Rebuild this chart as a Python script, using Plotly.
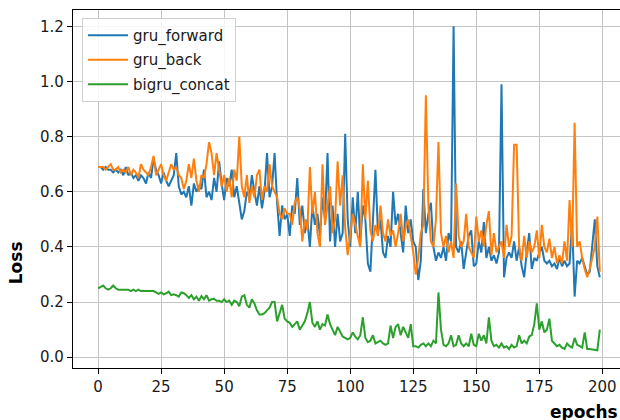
import plotly.graph_objects as go

epochs = list(range(200))

gru_forward = [
    0.69, 0.69, 0.68, 0.69, 0.68, 0.68, 0.67, 0.68, 0.67, 0.68,
    0.66, 0.69, 0.66, 0.67, 0.65, 0.66, 0.64, 0.66, 0.65, 0.63,
    0.67, 0.65, 0.72, 0.68, 0.66, 0.63, 0.67, 0.64, 0.62, 0.64,
    0.66, 0.74, 0.62, 0.59, 0.60, 0.58, 0.62, 0.55, 0.63, 0.60,
    0.62, 0.61, 0.68, 0.58, 0.60, 0.57, 0.65, 0.60, 0.71, 0.63,
    0.57, 0.65, 0.62, 0.68, 0.58, 0.62, 0.55, 0.50, 0.53, 0.60,
    0.58, 0.66, 0.60, 0.55, 0.62, 0.54, 0.60, 0.74, 0.58, 0.62,
    0.74, 0.56, 0.44, 0.55, 0.50, 0.52, 0.44, 0.55, 0.52, 0.65,
    0.48, 0.55, 0.45, 0.50, 0.40, 0.55, 0.48, 0.52, 0.44, 0.58,
    0.50, 0.74, 0.42, 0.55, 0.40, 0.52, 0.42, 0.45, 0.81, 0.50,
    0.40, 0.58, 0.45, 0.60, 0.42, 0.55, 0.50, 0.34, 0.31, 0.48,
    0.68, 0.45, 0.50, 0.38, 0.36, 0.44, 0.40, 0.60, 0.48, 0.52,
    0.44, 0.38, 0.55, 0.45, 0.50, 0.42, 0.40, 0.28, 0.35, 0.61,
    0.45, 0.52, 0.56, 0.40, 0.35, 0.38, 0.36, 0.40, 0.35, 0.45,
    0.42, 1.20, 0.40, 0.38, 0.42, 0.32, 0.38, 0.44, 0.46, 0.33,
    0.34, 0.42, 0.38, 0.49, 0.36, 0.40, 0.35, 0.37, 0.34, 0.38,
    0.99, 0.29, 0.36, 0.38, 0.36, 0.42, 0.35, 0.40, 0.33, 0.29,
    0.38, 0.45, 0.32, 0.36, 0.35, 0.38, 0.40, 0.35, 0.34, 0.35,
    0.33, 0.34, 0.32, 0.36, 0.33, 0.35, 0.33, 0.34, 0.49, 0.22,
    0.35, 0.34, 0.36, 0.33, 0.30, 0.31, 0.40, 0.50, 0.33, 0.29,
]

gru_back = [
    0.69, 0.69, 0.69, 0.68, 0.69, 0.70, 0.68, 0.68, 0.69, 0.67,
    0.68, 0.67, 0.69, 0.66, 0.68, 0.67, 0.65, 0.70, 0.68, 0.67,
    0.66, 0.69, 0.73, 0.66, 0.68, 0.70, 0.66, 0.64, 0.67, 0.70,
    0.68, 0.69, 0.66, 0.65, 0.61, 0.64, 0.70, 0.65, 0.72, 0.64,
    0.60, 0.66, 0.65, 0.70, 0.78, 0.74, 0.66, 0.74, 0.68, 0.62,
    0.66, 0.60, 0.65, 0.58, 0.68, 0.64, 0.80, 0.62, 0.58, 0.66,
    0.56, 0.62, 0.58, 0.66, 0.68, 0.57, 0.62, 0.60, 0.70, 0.62,
    0.60, 0.58, 0.52, 0.50, 0.54, 0.52, 0.52, 0.48, 0.56, 0.58,
    0.54, 0.42, 0.50, 0.46, 0.69, 0.52, 0.60, 0.45, 0.40, 0.70,
    0.48, 0.55, 0.62, 0.45, 0.50, 0.71, 0.55, 0.66, 0.47, 0.37,
    0.45, 0.52, 0.48, 0.44, 0.40, 0.70, 0.50, 0.64, 0.46, 0.42,
    0.48, 0.44, 0.55, 0.45, 0.42, 0.50, 0.44, 0.46, 0.40, 0.45,
    0.52, 0.42, 0.47, 0.50, 0.44, 0.38, 0.30, 0.36, 0.45, 0.48,
    0.95, 0.55, 0.42, 0.40, 0.50, 0.78, 0.45, 0.40, 0.44, 0.38,
    0.42, 0.36, 0.63, 0.44, 0.40, 0.42, 0.52, 0.40, 0.38, 0.36,
    0.51, 0.42, 0.46, 0.40, 0.48, 0.53, 0.37, 0.45, 0.38, 0.40,
    0.42, 0.36, 0.48, 0.40, 0.44, 0.77, 0.77, 0.40, 0.35, 0.44,
    0.36, 0.42, 0.38, 0.40, 0.46, 0.36, 0.48, 0.40, 0.38, 0.43,
    0.36, 0.40, 0.34, 0.37, 0.34, 0.42, 0.35, 0.57, 0.40, 0.85,
    0.40, 0.42, 0.36, 0.32, 0.29, 0.32, 0.36, 0.40, 0.51, 0.31,
]

bigru_concat = [
    0.25, 0.255, 0.26, 0.25, 0.245, 0.25, 0.26, 0.25, 0.245, 0.245,
    0.245, 0.245, 0.245, 0.24, 0.245, 0.24, 0.245, 0.24, 0.24, 0.24,
    0.24, 0.238, 0.24, 0.235, 0.23, 0.235, 0.228, 0.232, 0.238, 0.225,
    0.228, 0.225, 0.22, 0.235, 0.232, 0.225, 0.215, 0.225, 0.21, 0.22,
    0.205, 0.222, 0.21, 0.225, 0.205, 0.21, 0.212, 0.205, 0.205, 0.2,
    0.21, 0.2, 0.205, 0.19, 0.205, 0.2, 0.185, 0.22, 0.225, 0.19,
    0.18, 0.21, 0.195, 0.17, 0.155, 0.155, 0.16, 0.17, 0.18, 0.2,
    0.2, 0.13, 0.16, 0.19, 0.14, 0.13, 0.125, 0.11, 0.12, 0.13,
    0.1, 0.115, 0.13, 0.16, 0.2, 0.125, 0.11, 0.13, 0.1, 0.12,
    0.115, 0.155, 0.12, 0.1, 0.08, 0.11, 0.09, 0.075, 0.07, 0.065,
    0.07, 0.09, 0.075, 0.065, 0.08, 0.145, 0.07, 0.055, 0.06, 0.08,
    0.05, 0.055, 0.06, 0.05, 0.045, 0.05, 0.115, 0.07, 0.11, 0.12,
    0.08, 0.11, 0.09, 0.07, 0.12, 0.04, 0.04, 0.035, 0.045, 0.05,
    0.04, 0.05, 0.04, 0.06, 0.05, 0.235, 0.1, 0.045, 0.04, 0.05,
    0.08, 0.04, 0.045, 0.08, 0.05, 0.04, 0.05, 0.04, 0.085, 0.045,
    0.04, 0.085, 0.06, 0.08, 0.05, 0.145, 0.06, 0.04, 0.045, 0.035,
    0.05, 0.035, 0.04, 0.03, 0.045, 0.035, 0.04, 0.08, 0.05, 0.06,
    0.05, 0.075, 0.08, 0.12, 0.195, 0.1, 0.13, 0.09, 0.1, 0.14,
    0.06, 0.05, 0.04, 0.045, 0.035, 0.03, 0.05, 0.04, 0.035, 0.07,
    0.045, 0.04, 0.035, 0.09, 0.03, 0.03, 0.028, 0.025, 0.025, 0.1,
]

x_ticks = [0, 25, 50, 75, 100, 125, 150, 175, 200]
y_ticks = [0.0, 0.2, 0.4, 0.6, 0.8, 1.0, 1.2]

series = [
    ("gru_forward", gru_forward, "#1f77b4"),
    ("gru_back", gru_back, "#ff7f0e"),
    ("bigru_concat", bigru_concat, "#2ca02c"),
]

fig = go.Figure()
for name, vals, color in series:
    fig.add_trace(go.Scatter(x=epochs, y=vals, mode="lines", name=name,
                             legendgroup=name,
                             line=dict(color=color, width=2)))

FONT = "DejaVu Sans"
axis_common = dict(
    showgrid=True, gridcolor="#c4c4c4", gridwidth=1.2,
    showline=True, linecolor="black", linewidth=1.2,
    ticks="outside", ticklen=5, tickwidth=1.2, tickcolor="black",
    tickfont=dict(family=FONT, size=15, color="#1a1a1a"),
    zeroline=False, automargin=False,
)

fig.update_layout(
    width=620, height=420,
    margin=dict(l=73, r=0, t=10, b=52),
    paper_bgcolor="white", plot_bgcolor="white",
    font=dict(family=FONT, size=15, color="black"),
    showlegend=True,
    legend=dict(
        x=0.0165, y=0.978, xanchor="left", yanchor="top",
        bgcolor="rgba(255,255,255,0.85)", bordercolor="#d0d0d0", borderwidth=1,
        font=dict(family=FONT, size=15, color="#1a1a1a"),
        tracegroupgap=2, itemwidth=40,
    ),
    xaxis=dict(range=[-9.95, 207.0], tickvals=x_ticks, mirror=True, **axis_common),
    yaxis=dict(range=[-0.039, 1.259], tickvals=y_ticks, tickformat=".1f", mirror=False, **axis_common),
    annotations=[
        dict(text="<b>Loss</b>", xref="paper", yref="paper", x=-0.104, y=0.293,
             xanchor="center", yanchor="middle", textangle=-90, showarrow=False,
             font=dict(family=FONT, size=17, color="black")),
        dict(text="<b>epochs</b>", xref="paper", yref="paper", x=0.934, y=-0.09,
             xanchor="center", yanchor="top", showarrow=False,
             font=dict(family=FONT, size=17, color="black")),
    ],
)

fig.write_html("out.html")
